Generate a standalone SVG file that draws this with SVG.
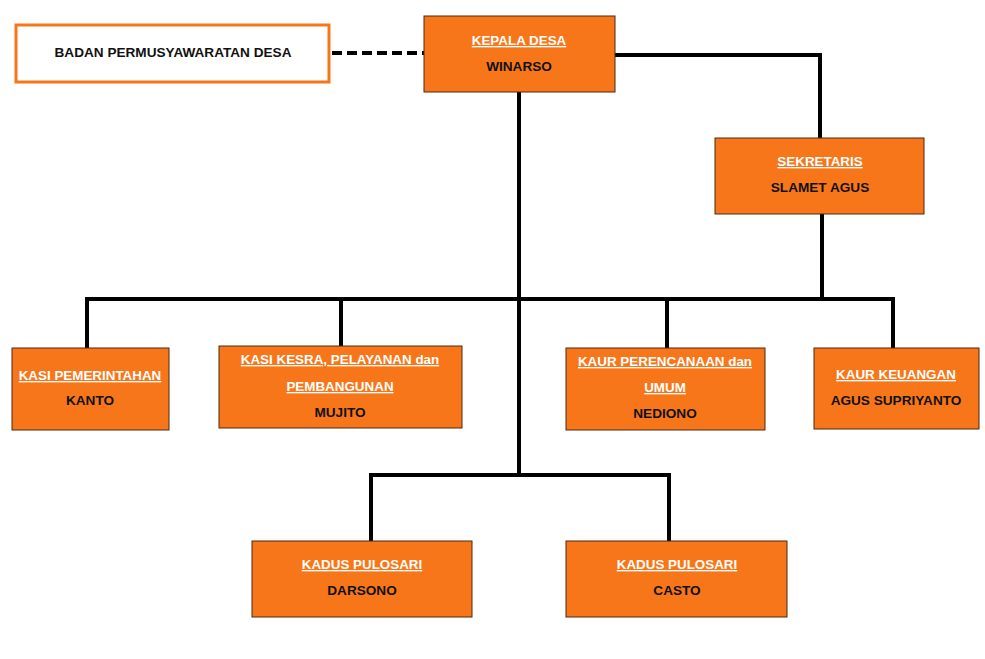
<svg xmlns="http://www.w3.org/2000/svg" width="985" height="659" viewBox="0 0 985 659">
  <style>
    .box { fill: #F8761A; stroke: #4a2a10; stroke-width: 1; }
    .title { font-family: "Liberation Sans", Arial, sans-serif; font-weight: bold; font-size: 13.4px; fill: #ffffff; text-anchor: middle; text-decoration: underline; }
    .name { font-family: "Liberation Sans", Arial, sans-serif; font-weight: bold; font-size: 13.6px; fill: #111111; text-anchor: middle; }
    .link { fill: none; stroke: #000000; stroke-width: 4; }
    .dash { fill: none; stroke: #000000; stroke-width: 4; stroke-dasharray: 10 5; }
  </style>
  <rect width="985" height="659" fill="#ffffff"/>

  <!-- connectors -->
  <g id="connectors">
    <line class="dash" x1="332" y1="53" x2="424" y2="53"/>
    <polyline class="link" points="615,55 820,55 820,138"/>
    <line class="link" x1="519" y1="92" x2="519" y2="475"/>
    <line class="link" x1="822" y1="214" x2="822" y2="299"/>
    <polyline class="link" points="87,348 87,299 893,299 893,348"/>
    <line class="link" x1="341" y1="299" x2="341" y2="346"/>
    <line class="link" x1="667" y1="299" x2="667" y2="348"/>
    <polyline class="link" points="371,541 371,475 669,475 669,541"/>
  </g>

  <g id="bpd">
    <rect x="16" y="25" width="313" height="57" fill="#ffffff" stroke="#F8761A" stroke-width="3"/>
    <text class="name" x="173" y="57">BADAN PERMUSYAWARATAN DESA</text>
  </g>

  <g id="kepala-desa">
    <rect class="box" x="424" y="16" width="191" height="76"/>
    <text class="title" x="519" y="45">KEPALA DESA</text>
    <text class="name" x="519" y="71">WINARSO</text>
  </g>

  <g id="sekretaris">
    <rect class="box" x="715" y="138" width="209" height="76"/>
    <text class="title" x="820" y="166">SEKRETARIS</text>
    <text class="name" x="820" y="192">SLAMET AGUS</text>
  </g>

  <g id="kasi-pemerintahan">
    <rect class="box" x="12" y="348" width="157" height="82"/>
    <text class="title" x="90" y="380">KASI PEMERINTAHAN</text>
    <text class="name" x="90" y="405">KANTO</text>
  </g>

  <g id="kasi-kesra">
    <rect class="box" x="219" y="346" width="243" height="82"/>
    <text class="title" x="340" y="364">KASI KESRA, PELAYANAN dan</text>
    <text class="title" x="340" y="391">PEMBANGUNAN</text>
    <text class="name" x="340" y="417">MUJITO</text>
  </g>

  <g id="kaur-perencanaan">
    <rect class="box" x="566" y="348" width="199" height="82"/>
    <text class="title" x="665" y="366">KAUR PERENCANAAN dan</text>
    <text class="title" x="665" y="392">UMUM</text>
    <text class="name" x="665" y="418">NEDIONO</text>
  </g>

  <g id="kaur-keuangan">
    <rect class="box" x="814" y="348" width="165" height="81"/>
    <text class="title" x="896" y="379">KAUR KEUANGAN</text>
    <text class="name" x="896" y="405">AGUS SUPRIYANTO</text>
  </g>

  <g id="kadus-darsono">
    <rect class="box" x="252" y="541" width="220" height="76"/>
    <text class="title" x="362" y="569">KADUS PULOSARI</text>
    <text class="name" x="362" y="595">DARSONO</text>
  </g>

  <g id="kadus-casto">
    <rect class="box" x="566" y="541" width="221" height="76"/>
    <text class="title" x="677" y="569">KADUS PULOSARI</text>
    <text class="name" x="677" y="595">CASTO</text>
  </g>
</svg>
